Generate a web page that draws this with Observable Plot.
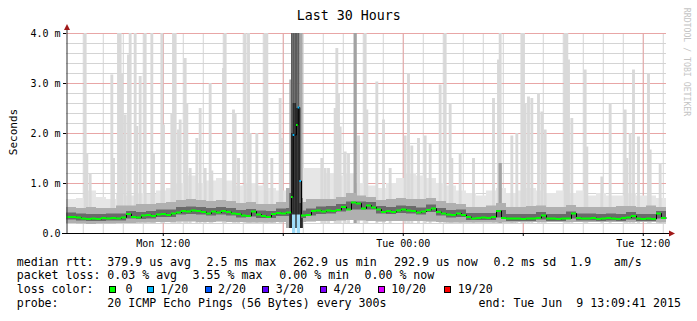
<!DOCTYPE html>
<html><head><meta charset="utf-8">
<script src="https://cdn.jsdelivr.net/npm/d3@7"></script>
<script src="https://cdn.jsdelivr.net/npm/@observablehq/plot@0.6"></script>
<style>
body{margin:0;background:#fff;}
#wrap{position:relative;width:697px;height:321px;overflow:hidden;font-family:"DejaVu Sans Mono",monospace;background:#fff;}
#wrap svg{position:absolute;left:0;top:0;}
.t{position:absolute;white-space:pre;color:#000;line-height:14px;}
</style></head><body><div id="wrap"></div>
<script>
// ---------- data ----------
const startTime = new Date(Date.UTC(2015, 5, 8, 7, 9, 41));
const endTime = new Date(Date.UTC(2015, 5, 9, 13, 9, 41));

// median rtt (ms), one value per 15 minutes; null = outage period (see outage arrays)
const medianStep = 15;
const median = [
 0.33,0.33,0.32,0.30,0.29,0.30,0.29,0.31,0.30,0.31,
 0.30,0.32,0.39,0.33,0.32,0.36,0.37,0.35,0.38,0.39,
 0.37,0.40,0.42,0.45,0.44,0.46,0.45,0.43,0.40,0.44,
 0.42,0.45,0.43,0.40,0.39,0.36,0.35,0.44,0.38,0.35,
 0.33,0.39,0.41,0.40,0.42,null,null,0.36,0.37,0.45,
 0.46,0.44,0.46,0.45,0.47,0.53,0.48,0.62,0.60,0.50,
 0.56,0.52,0.48,0.43,0.45,0.43,0.46,0.48,0.46,0.45,
 0.42,0.44,0.47,0.50,0.43,0.40,0.38,0.37,0.40,0.37,
 0.33,0.30,0.31,0.32,0.31,0.33,0.45,0.31,0.30,0.30,
 0.30,0.29,0.30,0.30,0.31,0.36,0.30,0.30,0.29,0.30,
 0.30,0.40,0.31,0.30,0.30,0.31,0.29,0.30,0.31,0.30,
 0.29,0.31,0.32,0.35,0.30,0.29,0.30,0.29,0.40,0.31];

// smoke (ms), one value per 30 minutes
const smokeStep = 30;
const smokeMin = [
 0.20,0.19,0.18,0.19,0.19,0.20,0.20,0.21,0.21,0.22,
 0.22,0.23,0.23,0.22,0.22,0.23,0.22,0.22,0.21,0.21,
 0.21,0.22,0.10,0.22,0.23,0.24,0.24,0.25,0.26,0.25,
 0.24,0.23,0.24,0.24,0.24,0.24,0.23,0.22,0.21,0.21,
 0.21,0.21,0.21,0.21,0.21,0.22,0.22,0.22,0.22,0.22,
 0.22,0.22,0.22,0.22,0.22,0.22,0.22,0.22,0.22,0.21];
const smokeMid = [
 0.52,0.50,0.52,0.50,0.50,0.55,0.55,0.58,0.58,0.60,
 0.62,0.66,0.68,0.66,0.64,0.66,0.64,0.60,0.62,0.58,
 0.58,0.62,0.90,0.62,0.68,0.68,0.68,0.72,0.80,0.75,
 0.72,0.66,0.68,0.70,0.68,0.68,0.70,0.64,0.60,0.58,
 0.52,0.52,0.55,0.60,0.52,0.52,0.54,0.55,0.52,0.52,
 0.56,0.52,0.52,0.52,0.52,0.54,0.54,0.52,0.55,0.52];
const smokeHaze = [
 0.68,0.70,0.85,0.72,0.68,0.78,0.75,0.80,0.78,0.85,
 0.90,1.00,1.15,1.00,1.05,1.10,1.05,0.95,1.00,0.95,
 0.90,0.85,0.90,1.30,1.30,1.30,1.20,1.15,1.20,1.00,
 0.95,0.90,1.00,1.10,1.20,1.15,1.10,1.00,0.95,0.85,
 0.80,0.75,0.85,0.90,0.80,0.85,0.90,0.85,0.80,0.85,
 0.80,0.85,0.75,0.80,0.75,0.75,0.80,0.75,0.75,0.70];
const coreLo = [
 0.27,0.25,0.24,0.24,0.25,0.25,0.29,0.28,0.29,0.32,
 0.32,0.37,0.38,0.37,0.35,0.37,0.35,0.31,0.33,0.30,
 0.30,0.34,0.34,0.30,0.35,0.38,0.39,0.43,0.47,0.47,
 0.47,0.39,0.38,0.40,0.39,0.37,0.42,0.35,0.31,0.32,
 0.26,0.26,0.26,0.31,0.24,0.24,0.24,0.27,0.24,0.24,
 0.29,0.25,0.25,0.24,0.25,0.24,0.27,0.24,0.24,0.29];
const coreHi = [
 0.41,0.39,0.38,0.38,0.39,0.39,0.44,0.42,0.44,0.47,
 0.47,0.52,0.53,0.52,0.50,0.52,0.50,0.46,0.48,0.45,
 0.44,0.49,0.50,0.45,0.49,0.53,0.54,0.58,0.63,0.63,
 0.62,0.54,0.52,0.55,0.54,0.51,0.57,0.50,0.46,0.47,
 0.40,0.40,0.40,0.46,0.38,0.38,0.38,0.42,0.38,0.38,
 0.43,0.39,0.39,0.38,0.39,0.38,0.42,0.38,0.38,0.44];

// single-ping spikes: minutes after start, max rtt (ms)
const spikeMinutes = [55,60,70,135,140,155,160,165,175,185,190,205,210,220,235,255,260,285,290,315,320,325,335,340,355,360,370,390,400,415,430,435,
 470,475,500,505,515,535,545,550,570,595,600,615,640,645,
 765,775,785,805,810,815,820,835,845,875,895,900,930,950,970,1015,1025,1035,1055,1075,1090,1120,1135,1150,1155,1180,1220,1280,1295,1300,1335,1350,
 1365,1370,1375,1385,1395,1415,1425,1435,1495,1500,1505,1515,1555,1560,1605,1630,1675,1680,1690,1700,1715,1745,1750,1780];
const spikeHeights = [4.5,1.6,1.2,3.17,1.5,4.5,4.5,3.2,2.37,3.57,4.5,4.5,2.14,3.14,4.5,4.5,1.6,4.5,2.17,2.4,4.5,4.5,2.07,2.27,3.5,2.6,1.3,1.9,2.5,1.3,3.0,1.25,
 3.3,4.5,2.47,2.4,1.5,4.5,4.5,2.0,2.0,4.5,4.5,1.5,2.7,1.9,
 1.5,1.3,1.3,2.5,3.7,2.8,2.13,1.63,1.6,1.95,4.5,2.47,3.03,2.27,1.3,1.95,3.2,1.75,1.9,1.95,1.8,2.97,4.5,2.6,1.5,1.6,1.5,2.7,3.47,4.5,1.95,2.0,
 4.5,4.5,2.6,2.73,2.7,2.8,2.43,2.07,4.5,4.5,3.47,2.3,3.27,1.73,1.13,2.6,2.47,1.5,2.0,3.27,1.93,3.2,1.67,1.4];
const darkSpikeMinutes = [865, 1300];
const darkSpikeHeights = [4.5, 1.4];

// outage period, 5-minute columns
const outageMinutes = [670,675,680,685,690,695,700,705];
const outageLight = [3.07,4.5,4.5,4.5,4.5,4.5,4.5,4.5];
const outageMid   = [0.8,4.5,4.5,4.5,4.5,4.5,1.05,0.7];
const outageDark  = [0.4,2.0,2.6,2.6,2.5,2.5,0.6,0.3];
const outageMedMinutes = [675,680,690,695,700];
const outageMedian = [0.73,1.97,2.17,2.52,1.05];
const outageLoss = [0,1,0,1,1];   // index into loss colours
const lossBarStart = [678, 692];
const lossBarEnd = [688, 702];
const lossBarHeight = [0.37, 0.37];

// axes / legend text
const yTickValues = [0, 1, 2, 3, 4];
const yTickLabels = ["0.0", "1.0 m", "2.0 m", "3.0 m", "4.0 m"];
const xTickDates = [Date.UTC(2015,5,8,12), Date.UTC(2015,5,8,18), Date.UTC(2015,5,9,0), Date.UTC(2015,5,9,6), Date.UTC(2015,5,9,12)].map(d => new Date(d));
const xTickLabels = ["Mon 12:00", "", "Tue 00:00", "", "Tue 12:00"];
const titleText = "Last 30 Hours";
const yLabel = "Seconds";
const sideText = "RRDTOOL / TOBI OETIKER";
const lossColorLabels = ["0", "1/20", "2/20", "3/20", "4/20", "10/20", "19/20"];
const lossColorValues = ["#00ff00", "#00b8ff", "#0059ff", "#5e00ff", "#7e00ff", "#dd00ff", "#ff0000"];
const legendLines = [
  [["median rtt:",16.7],["379.9 us avg",107.3],["2.5 ms max",206.5],["262.9 us min",293],["292.9 us now",394],["0.2 ms sd",493.4],["1.9",570.2],["am/s",613.8]],
  [["packet loss:",16.7],["0.03 % avg",107.3],["3.55 % max",192.6],["0.00 % min",279.3],["0.00 % now",364.5]],
  [["loss color:",16.7]],
  [["probe:",16.7],["20 ICMP Echo Pings (56 Bytes) every 300s",107.3],["end: Tue Jun  9 13:09:41 2015",478.5]]
];
const lossBoxX = [109.2, 146.9, 204.6, 262.4, 320, 377.9, 443.6];
const lossTextX = [125.5, 160.2, 218, 275.7, 333.4, 391.2, 457.8];

// ---------- build rows ----------
const MIN = 60000;
const tm = m => new Date(startTime.getTime() + m * MIN);
const smokeRows = smokeMin.map((lo, j) => ({t0: tm(j*smokeStep), t1: tm(j*smokeStep+smokeStep), lo, mid: smokeMid[j], haze: smokeHaze[j], cLo: coreLo[j], cHi: coreHi[j]}));
const spikeRows = spikeMinutes.map((m, k) => ({t0: tm(m), t1: tm(m+5), h: spikeHeights[k]}));
const darkSpikeRows = darkSpikeMinutes.map((m, k) => ({t0: tm(m), t1: tm(m+5), h: darkSpikeHeights[k]}));
const outageRows = outageMinutes.map((m, k) => ({t0: tm(m), t1: tm(m+5), light: outageLight[k], mid: outageMid[k], dark: outageDark[k]}));
const lossBars = lossBarStart.map((m, k) => ({t0: tm(m), t1: tm(lossBarEnd[k]), h: lossBarHeight[k]}));
const medRows = [];
median.forEach((v, i) => { if (v != null) medRows.push({t0: tm(i*medianStep), t1: tm(i*medianStep+medianStep), v, loss: 0}); });
outageMedMinutes.forEach((m, k) => medRows.push({t0: tm(m), t1: tm(m+5), v: outageMedian[k], loss: outageLoss[k]}));
medRows.sort((a, b) => a.t0 - b.t0);
const linePts = medRows.map(r => ({t: r.t0, v: r.v}));
linePts.push({t: medRows[medRows.length-1].t1, v: medRows[medRows.length-1].v});

const hourTicks = d3.utcHour.range(startTime, endTime);
const sixHourTicks = hourTicks.filter(d => d.getUTCHours() % 6 === 0);
const minorY = d3.range(0.2, 4.0, 0.2).filter(v => Math.abs(v - Math.round(v)) > 0.01);
const majorY = [1, 2, 3, 4];

const plot = Plot.plot({
  width: 697, height: 252,
  marginTop: 33, marginBottom: 19, marginLeft: 66, marginRight: 31,
  style: {fontFamily: "'DejaVu Sans Mono', monospace", fontSize: "10px", background: "transparent", color: "#000", overflow: "visible"},
  x: {type: "utc", domain: [startTime, endTime]},
  y: {domain: [0, 4]},
  marks: [
    Plot.ruleX(hourTicks, {stroke: "#d4d4d4", strokeWidth: 1}),
    Plot.ruleY(minorY, {stroke: "#d4d4d4", strokeWidth: 1}),
    Plot.ruleX(sixHourTicks, {stroke: "#e8a6a6", strokeWidth: 1}),
    Plot.ruleY(majorY, {stroke: "#e8a6a6", strokeWidth: 1}),
    Plot.rect(smokeRows, {x1: "t0", x2: "t1", y1: "lo", y2: "haze", fill: "#e6e6e6", clip: true}),
    Plot.rect(spikeRows, {x1: "t0", x2: "t1", y1: 0.2, y2: "h", fill: "#d9d9d9", insetLeft: -0.6, insetRight: -0.6, clip: true}),
    Plot.rect(darkSpikeRows, {x1: "t0", x2: "t1", y1: 0.2, y2: "h", fill: "#a2a2a2", insetLeft: -0.8, insetRight: -0.8, clip: true}),
    Plot.rect(smokeRows, {x1: "t0", x2: "t1", y1: "lo", y2: "mid", fill: "#b0b0b0", clip: true}),
    Plot.rect(smokeRows, {x1: "t0", x2: "t1", y1: "cLo", y2: "cHi", fill: "#6a6a6a", clip: true}),
    Plot.rect(outageRows, {x1: "t0", x2: "t1", y1: 0.1, y2: "light", fill: "#a9a9a9", clip: true}),
    Plot.rect(outageRows, {x1: "t0", x2: "t1", y1: 0.1, y2: "mid", fill: "#5c5c5c", clip: true}),
    Plot.rect(outageRows, {x1: "t0", x2: "t1", y1: 0.1, y2: "dark", fill: "#2a2a2a", clip: true}),
    Plot.rect(lossBars, {x1: "t0", x2: "t1", y1: 0, y2: "h", fill: "#9fdcf9"}),
    Plot.line(linePts, {x: "t", y: "v", curve: "step-after", stroke: "#000", strokeWidth: 1}),
    Plot.ruleY(medRows, {x1: "t0", x2: "t1", y: "v", stroke: d => lossColorValues[d.loss], strokeWidth: 2}),
    Plot.axisY({ticks: yTickValues, tickFormat: (d, i) => yTickLabels[i], tickSize: 3, tickPadding: 3, label: null}),
    Plot.axisX({ticks: xTickDates, tickFormat: (d, i) => xTickLabels[i], tickSize: 3, tickPadding: 3, label: null})
  ]
});

const wrap = document.getElementById("wrap");
wrap.appendChild(plot);

// axis lines and arrows, positioned with the plot's own scales
const sx = plot.scale("x"), sy = plot.scale("y");
const x0 = sx.apply(startTime), x1 = sx.apply(endTime), y0 = sy.apply(0), yTop = sy.apply(4);
const svg = d3.select(plot);
svg.append("line").attr("x1", x0 + 1).attr("x2", x0 + 1).attr("y1", y0).attr("y2", yTop - 4).attr("stroke", "#333").attr("stroke-width", 1);
svg.append("line").attr("x1", x0 - 4).attr("x2", x1 + 4).attr("y1", y0 + 0.5).attr("y2", y0 + 0.5).attr("stroke", "#000").attr("stroke-width", 1);
svg.append("path").attr("d", `M${x0 + 1 - 3},${yTop - 3} L${x0 + 1 + 3},${yTop - 3} L${x0 + 1},${yTop - 9} Z`).attr("fill", "#a01818");
svg.append("path").attr("d", `M${x1 + 3},${y0 + 0.5 - 3} L${x1 + 3},${y0 + 0.5 + 3} L${x1 + 9},${y0 + 0.5} Z`).attr("fill", "#a01818");

// texts
function addText(txt, x, y, css) {
  const d = document.createElement("div");
  d.className = "t";
  d.textContent = txt;
  d.style.left = x + "px";
  d.style.top = y + "px";
  Object.assign(d.style, css || {});
  wrap.appendChild(d);
  return d;
}
addText(titleText, 348.7, 15.7, {fontSize: "13.3px", transform: "translate(-50%,-50%)"});
addText(yLabel, 14.3, 131.7, {fontSize: "11px", transform: "translate(-50%,-50%) rotate(-90deg)"});
addText(sideText, 687, 61.5, {fontSize: "8.2px", color: "#c4c4c4", transform: "translate(-50%,-50%) rotate(90deg)"});

const lineTops = [254.7, 268, 282.3, 296.3];
legendLines.forEach((segs, li) => segs.forEach(([txt, x]) => addText(txt, x, lineTops[li], {fontSize: "11.6px"})));
lossColorLabels.forEach((lab, k) => {
  const b = document.createElement("div");
  Object.assign(b.style, {position: "absolute", left: lossBoxX[k] + "px", top: "286px", width: "5px", height: "5px", border: "1px solid #000", background: lossColorValues[k]});
  wrap.appendChild(b);
  addText(lab, lossTextX[k], lineTops[2], {fontSize: "11.6px"});
});
</script></body></html>
